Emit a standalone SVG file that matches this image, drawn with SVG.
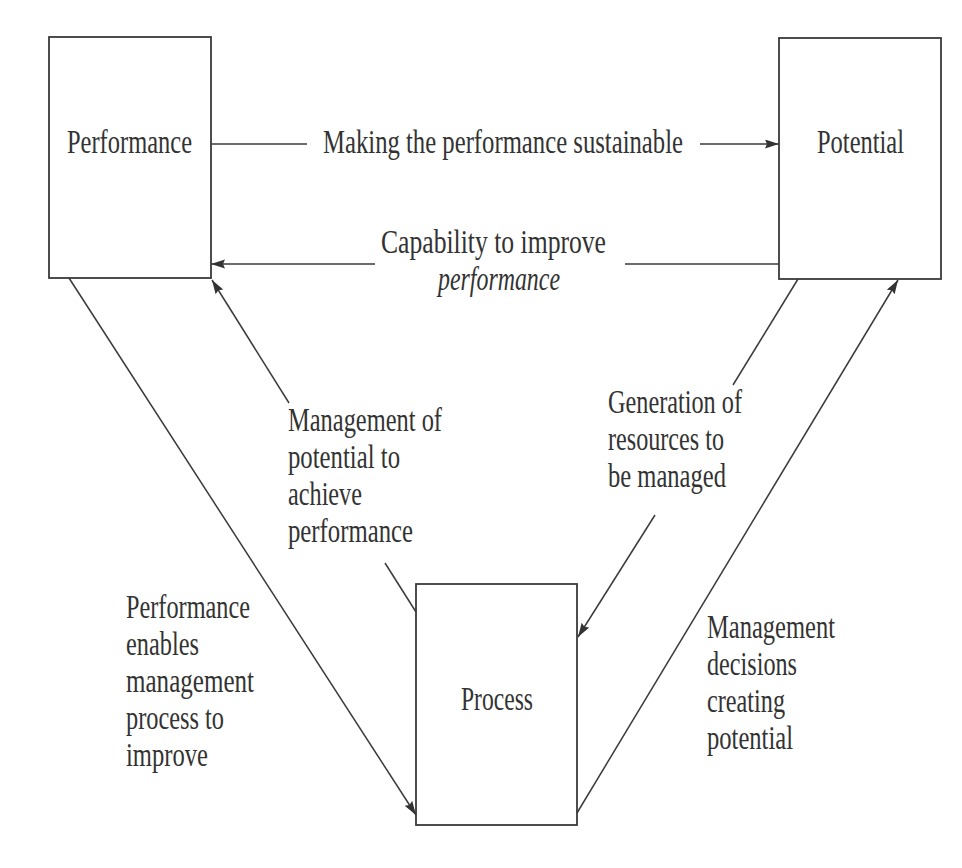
<svg xmlns="http://www.w3.org/2000/svg" width="962" height="868" viewBox="0 0 962 868">
  <defs>
    <marker id="arrow" markerUnits="userSpaceOnUse" markerWidth="16" markerHeight="10" refX="14" refY="4.5" orient="auto">
      <path d="M0,0 L14,4.5 L0,9 L2,4.5 z" fill="#333"/>
    </marker>
    <style>
      .box { fill: none; stroke: #3a3a3a; stroke-width: 1.8; }
      .lbl { font-family: "Liberation Serif", "DejaVu Serif", serif; font-size: 33px; fill: #333; }
      .it { font-style: italic; }
      .conn line { stroke: #3a3a3a; stroke-width: 1.5; fill: none; }
    </style>
  </defs>

  <rect x="0" y="0" width="962" height="868" fill="#ffffff"/>

  <!-- Nodes -->
  <g id="performance">
    <rect class="box" x="49" y="37" width="162" height="241"/>
    <text class="lbl" x="67" y="153" textLength="125" lengthAdjust="spacingAndGlyphs">Performance</text>
  </g>
  <g id="potential">
    <rect class="box" x="779" y="38" width="162" height="241"/>
    <text class="lbl" x="817" y="153" textLength="87" lengthAdjust="spacingAndGlyphs">Potential</text>
  </g>
  <g id="process">
    <rect class="box" x="416" y="584" width="161" height="241"/>
    <text class="lbl" x="461" y="710" textLength="72" lengthAdjust="spacingAndGlyphs">Process</text>
  </g>

  <!-- Connectors -->
  <g id="connectors" class="conn">
    <!-- Performance to Potential -->
    <line x1="211" y1="144" x2="307" y2="144"/>
    <line x1="700" y1="144" x2="779" y2="144" marker-end="url(#arrow)"/>
    <!-- Potential back to Performance -->
    <line x1="779" y1="264" x2="625" y2="264"/>
    <line x1="375" y1="264" x2="211" y2="264" marker-end="url(#arrow)"/>
    <!-- Performance to Process -->
    <line x1="69" y1="278" x2="416" y2="815" marker-end="url(#arrow)"/>
    <!-- Process to Performance -->
    <line x1="416" y1="612" x2="385" y2="563"/>
    <line x1="289" y1="403" x2="212" y2="280" marker-end="url(#arrow)"/>
    <!-- Potential to Process -->
    <line x1="798" y1="279" x2="733" y2="385"/>
    <line x1="655" y1="515" x2="578" y2="637" marker-end="url(#arrow)"/>
    <!-- Process to Potential -->
    <line x1="577" y1="813" x2="898" y2="280" marker-end="url(#arrow)"/>
  </g>

  <!-- Connector labels -->
  <g id="labels">
    <text class="lbl" x="323" y="153" textLength="360" lengthAdjust="spacingAndGlyphs">Making the performance sustainable</text>

    <text class="lbl" x="381" y="253" textLength="225" lengthAdjust="spacingAndGlyphs">Capability to improve</text>
    <text class="lbl it" x="438" y="290" textLength="122" lengthAdjust="spacingAndGlyphs">performance</text>

    <text class="lbl" x="288" y="431" textLength="154" lengthAdjust="spacingAndGlyphs">Management of</text>
    <text class="lbl" x="288" y="468" textLength="112" lengthAdjust="spacingAndGlyphs">potential to</text>
    <text class="lbl" x="288" y="505" textLength="74" lengthAdjust="spacingAndGlyphs">achieve</text>
    <text class="lbl" x="288" y="542" textLength="125" lengthAdjust="spacingAndGlyphs">performance</text>

    <text class="lbl" x="608" y="413" textLength="134" lengthAdjust="spacingAndGlyphs">Generation of</text>
    <text class="lbl" x="608" y="450" textLength="116" lengthAdjust="spacingAndGlyphs">resources to</text>
    <text class="lbl" x="608" y="487" textLength="118" lengthAdjust="spacingAndGlyphs">be managed</text>

    <text class="lbl" x="126" y="618" textLength="124" lengthAdjust="spacingAndGlyphs">Performance</text>
    <text class="lbl" x="126" y="655" textLength="73" lengthAdjust="spacingAndGlyphs">enables</text>
    <text class="lbl" x="126" y="692" textLength="128" lengthAdjust="spacingAndGlyphs">management</text>
    <text class="lbl" x="126" y="729" textLength="98" lengthAdjust="spacingAndGlyphs">process to</text>
    <text class="lbl" x="126" y="766" textLength="82" lengthAdjust="spacingAndGlyphs">improve</text>

    <text class="lbl" x="707" y="638" textLength="128" lengthAdjust="spacingAndGlyphs">Management</text>
    <text class="lbl" x="707" y="675" textLength="90" lengthAdjust="spacingAndGlyphs">decisions</text>
    <text class="lbl" x="707" y="712" textLength="78" lengthAdjust="spacingAndGlyphs">creating</text>
    <text class="lbl" x="707" y="749" textLength="86" lengthAdjust="spacingAndGlyphs">potential</text>
  </g>
</svg>
